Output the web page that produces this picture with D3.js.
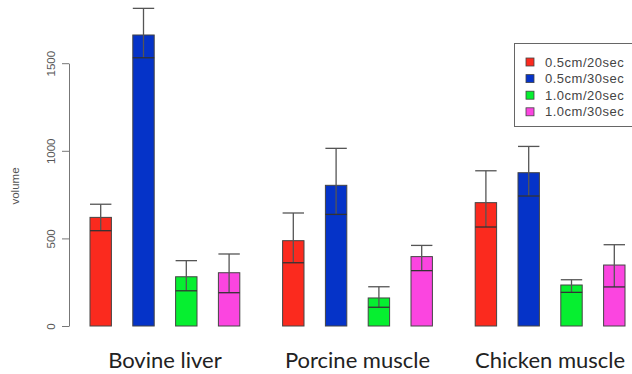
<!DOCTYPE html>
<html><head><meta charset="utf-8">
<script src="https://cdn.jsdelivr.net/npm/d3@7"></script>
<style>body{margin:0;background:#fff}svg{display:block}</style>
</head><body>
<script>
const groups = ["Bovine liver", "Porcine muscle", "Chicken muscle"];
const series = ["0.5cm/20sec", "0.5cm/30sec", "1.0cm/20sec", "1.0cm/30sec"];
const colors = ["#fb2a1e", "#0533c8", "#06ef30", "#fb45e0"];
// mean values per group, series order
const means = [
  [620, 1661, 281, 304],
  [487, 803, 160, 396],
  [704, 875, 234, 348]
];
const upper = [
  [695, 1813, 373, 411],
  [645, 1014, 224, 460],
  [886, 1025, 264, 464]
];
const lower = [
  [544, 1531, 201, 190],
  [361, 637, 107, 316],
  [565, 742, 192, 223]
];
const yTicks = [0, 500, 1000, 1500];

const W = 632, H = 374;
const svg = d3.select("body").append("svg").attr("width", W).attr("height", H);

const y = d3.scaleLinear().domain([0, 1500]).range([326, 63.2]);
const x0 = d3.scaleBand().domain(groups).range([90, 625]).paddingInner(2/9).paddingOuter(0);
const x1 = d3.scaleBand().domain(series).range([0, x0.bandwidth()]).paddingInner(0.5).paddingOuter(0);

const data = [];
groups.forEach((g, gi) => series.forEach((s, si) => {
  data.push({g, s, si, v: means[gi][si], hi: upper[gi][si], lo: lower[gi][si]});
}));

// bars
svg.append("g").selectAll("rect").data(data).join("rect")
  .attr("x", d => x0(d.g) + x1(d.s))
  .attr("y", d => y(d.v))
  .attr("width", x1.bandwidth())
  .attr("height", d => y(0) - y(d.v))
  .attr("fill", d => colors[d.si])
  .attr("stroke", "#444").attr("stroke-width", 1);

// error bars
const eb = svg.append("g").attr("stroke", "#555").attr("stroke-width", 1.3);
data.forEach(d => {
  const cx = x0(d.g) + x1(d.s) + x1.bandwidth() / 2;
  const l = x0(d.g) + x1(d.s), r = l + x1.bandwidth();
  eb.append("line").attr("x1", cx).attr("x2", cx).attr("y1", y(d.hi)).attr("y2", y(d.lo));
  eb.append("line").attr("x1", l).attr("x2", r).attr("y1", y(d.hi)).attr("y2", y(d.hi));
  eb.append("line").attr("x1", l).attr("x2", r).attr("y1", y(d.lo)).attr("y2", y(d.lo)).attr("stroke", "#333");
});

// y axis
const ax = svg.append("g").attr("transform", "translate(69,0)")
  .call(d3.axisLeft(y).tickValues(yTicks).tickSize(7).tickSizeOuter(0).tickFormat(d3.format("d")));
ax.select(".domain").attr("stroke", "#777");
ax.selectAll(".tick line").attr("stroke", "#777");
ax.selectAll(".tick text")
  .attr("font-family", "Liberation Sans, Arial, sans-serif").attr("font-size", 11.5).attr("fill", "#555")
  .attr("text-anchor", "middle").attr("dy", "0")
  .attr("transform", "translate(-18,0) rotate(-90)").attr("x", 0).attr("y", 4);

svg.append("text").attr("transform", "translate(19,186) rotate(-90)")
  .attr("text-anchor", "middle").attr("font-family", "Liberation Sans, Arial, sans-serif")
  .attr("font-size", 11.5).attr("fill", "#555").text("volume");

// group labels
svg.append("g").selectAll("text").data(groups).join("text")
  .attr("x", d => x0(d) + x0.bandwidth() / 2)
  .attr("y", 368)
  .attr("text-anchor", "middle")
  .attr("font-family", "Lato, sans-serif").attr("font-size", 22).attr("fill", "#222")
  .text(d => d);

// legend
const lg = svg.append("g");
lg.append("rect").attr("x", 514.5).attr("y", 43.5).attr("width", 130).attr("height", 83)
  .attr("fill", "#fff").attr("stroke", "#666").attr("stroke-width", 1);
series.forEach((s, i) => {
  const yy = 62 + i * 16.6;
  lg.append("rect").attr("x", 526).attr("y", yy - 4).attr("width", 8).attr("height", 8)
    .attr("fill", colors[i]).attr("stroke", "#444").attr("stroke-width", 0.8);
  lg.append("text").attr("x", 545).attr("y", yy + 4.5)
    .attr("font-family", "Liberation Sans, Arial, sans-serif").attr("font-size", 13)
    .attr("letter-spacing", 0.5).attr("fill", "#444")
    .text(s);
});
</script>
</body></html>
